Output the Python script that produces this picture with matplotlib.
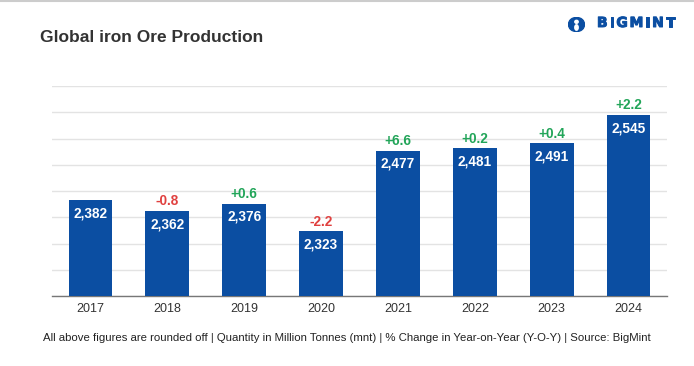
import matplotlib
matplotlib.use("Agg")
import matplotlib.pyplot as plt
import matplotlib.patheffects as pe
from matplotlib.patches import Circle, Ellipse

years = ["2017", "2018", "2019", "2020", "2021", "2022", "2023", "2024"]
production = [2382, 2362, 2376, 2323, 2477, 2481, 2491, 2545]
yoy_change = [None, -0.8, 0.6, -2.2, 6.6, 0.2, 0.4, 2.2]

plt.rcParams['font.family'] = ['Liberation Sans', 'DejaVu Sans']

fig = plt.figure(figsize=(6.94, 3.66), dpi=100)
ax = fig.add_axes([52/694, 1-296/366, (667-52)/694, (296-86)/366])

bar_color = "#0B4EA2"
x = list(range(len(years)))
ax.bar(x, [p - 2200 for p in production], bottom=2200, width=0.57, color=bar_color, zorder=3)

ax.set_ylim(2200, 2600)
ax.set_xlim(-0.5, len(years) - 0.5)
ax.set_yticks(range(2200, 2601, 50))
ax.yaxis.grid(True, color="#e3e3e3", linewidth=1, zorder=0)
ax.set_yticklabels([])
ax.tick_params(axis='y', length=0)
ax.tick_params(axis='x', length=0, pad=5, labelsize=9, labelcolor="#333333")
ax.set_xticks(x)
ax.set_xticklabels(years)
for s in ["top", "right", "left"]:
    ax.spines[s].set_visible(False)
ax.spines["bottom"].set_color("#777777")
ax.spines["bottom"].set_linewidth(1)

for xi, p, c in zip(x, production, yoy_change):
    ax.annotate(f"{p:,}", (xi, p), xytext=(0, -9.5), textcoords="offset points",
                ha="center", va="center", color="white", fontsize=9.8, fontweight="bold", zorder=4)
    if c is not None:
        col = "#22A559" if c > 0 else "#E0403F"
        ax.annotate(f"{c:+.1f}", (xi, p), xytext=(0, 7), textcoords="offset points",
                    ha="center", va="center", color=col, fontsize=9.8, fontweight="bold")

fig.text(40/694, 1-38/366, "Global iron Ore Production", fontsize=12.5, fontweight="bold",
         color="#333333", ha="left", va="center")

fig.text(347/694, 1-338/366,
         "All above figures are rounded off | Quantity in Million Tonnes (mnt) | % Change in Year-on-Year (Y-O-Y) | Source: BigMint",
         fontsize=8.2, color="#222222", ha="center", va="center")

# logo text: letters spaced by their DejaVu Sans Bold advance widths (em units)
logo_letters = "BIGMINT"
adv = {"B": 0.762, "I": 0.372, "G": 0.821, "M": 0.995, "N": 0.837, "T": 0.682}
fs = 10
em_px = fs * 100 / 72
pos = 597.0
gap = 1.8
for ch in logo_letters:
    fig.text(pos / 694, 1-23/366, ch, fontsize=fs, fontweight="bold", color="#0B4EA2",
             family="DejaVu Sans", ha="left", va="center",
             path_effects=[pe.withStroke(linewidth=0.7, foreground="#0B4EA2")])
    pos += adv[ch] * em_px + gap

logo_ax = fig.add_axes([568/694, 1-32/366, 17/694, 15/366])
logo_ax.set_xlim(0, 1); logo_ax.set_ylim(0, 1); logo_ax.axis("off")
logo_ax.add_patch(Ellipse((0.5, 0.5), 0.95, 0.95, color="#0B4EA2"))
logo_ax.add_patch(Circle((0.5, 0.68), 0.1, color="white"))
logo_ax.add_patch(Ellipse((0.5, 0.3), 0.2, 0.36, color="white"))

# top border line
fig.add_artist(plt.Line2D([0, 1], [1-1/366, 1-1/366], color="#cccccc", linewidth=1.5))

fig.savefig("out.png", dpi=100)
